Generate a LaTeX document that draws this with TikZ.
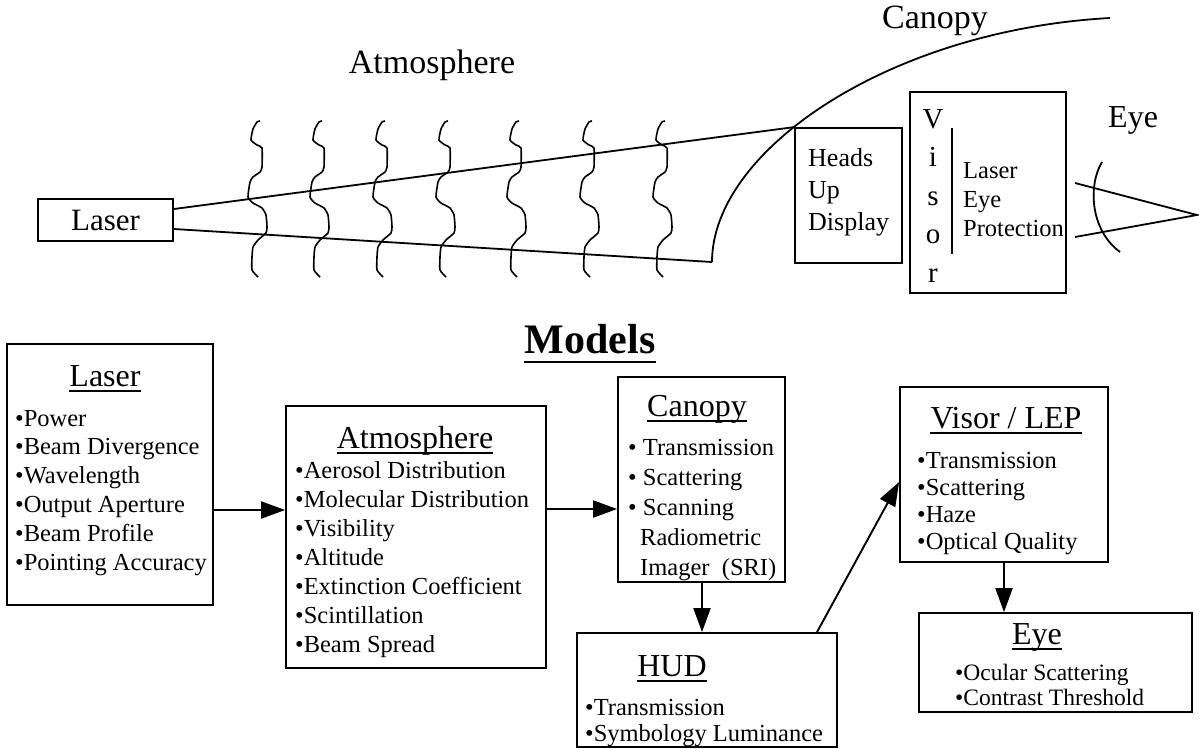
\documentclass[tikz,border=0pt]{standalone}
\usepackage{fontspec}
\setmainfont{Liberation Serif}
\usetikzlibrary{arrows.meta}
\newcommand\headul[1]{\draw[line width=1.6pt] ([yshift=-5pt]#1.base west) -- ([yshift=-5pt]#1.base east);}
\begin{document}
\begin{tikzpicture}[x=1pt,y=-1pt,
  box/.style={draw, line width=1.8pt, inner sep=0pt},
  ln/.style={line width=1.8pt},
  sq/.style={line width=1.6pt, line join=round},
  arr/.style={line width=1.9pt, -{Triangle[length=24pt,width=17pt]}},
  body/.style={font=\fontsize{24.5}{29}\selectfont, inner sep=0pt, anchor=base west},
  head/.style={font=\fontsize{32}{38}\selectfont, inner sep=0pt, anchor=base},
  big/.style={font=\fontsize{34}{40}\selectfont, inner sep=0pt, anchor=base},
  mid/.style={font=\fontsize{26}{31}\selectfont, inner sep=0pt, anchor=base west}]
\useasboundingbox (0,0) rectangle (1199,748);

% ---------------- top scene ----------------
\node[big] (tatm) at (432,73) {Atmosphere};
\node[big] (tcan) at (935,28) {Canopy};
\node[head, anchor=base west] (teye) at (1108,127) {Eye};

\node[box, minimum width=135pt, minimum height=42pt] (lasers) at (105.5,220) {};
\node[font=\fontsize{31}{36}\selectfont, inner sep=0pt, anchor=base] (lasert) at (105.5,230) {Laser};

\node[box, minimum width=107pt, minimum height=135pt] (huds) at (848.5,195.5) {};
\node[mid] (hud1) at (808,166) {Heads};
\node[mid] (hud2) at (808,198) {Up};
\node[mid] (hud3) at (808,230) {Display};

\node[box, minimum width=156pt, minimum height=201pt] (visors) at (988,192.5) {};
\foreach \c [count=\i from 0] in {V,i,s,o,r}
  \node[font=\fontsize{29}{33}\selectfont, inner sep=0pt, anchor=base] (vl\i) at (933,{128+38.5*\i}) {\c};
\coordinate (vbar1) at (952,128);
\coordinate (vbar2) at (952,254);
\draw[line width=1.6pt] (vbar1) -- (vbar2);
\node[body] (lep1) at (963,178) {Laser};
\node[body] (lep2) at (963,207) {Eye};
\node[body] (lep3) at (963,236) {Protection};

% beam and canopy
\coordinate (cbot) at (712,262);
\coordinate (ctop) at (1110,18);
\draw[ln] ([yshift=11pt]lasers.east) -- (huds.north west);
\draw[ln] ([yshift=-9pt]lasers.east) -- (cbot);
\draw[ln] (cbot) .. controls (712,150) and (890,30) .. (ctop);

% turbulence squiggles
\foreach \x in {260,322,385,448,519,592,665}
  \draw[sq, shift={(\x,121)}] plot[smooth, tension=0.3] coordinates
   {(0,0) (-3,1) (-7,8) (-9,19) (-3,24) (2,27) (2,46) (0,51) (-7,56) (-10,61)
    (-12,76) (-7,82) (2,87) (6,94) (7,106) (6,112) (-2,119) (-7,126) (-8,136)
    (-8,149) (-2,156)};

% eye
\coordinate (eyea) at (1102,162);
\coordinate (eyeb) at (1120,252);
\draw[ln] (eyea) .. controls (1088,185) and (1090,230) .. (eyeb);
\coordinate (eyeu) at (1075,183);
\coordinate (eyel) at (1075,237);
\coordinate (eyeapex) at (1197,215);
\draw[ln] (eyeu) -- (eyeapex) -- (eyel);

% ---------------- models ----------------
\node[font=\bfseries\fontsize{42}{48}\selectfont, inner sep=0pt, anchor=base] (models) at (590,353) {Models};
\draw[line width=2.6pt] ([yshift=-9pt]models.base west) -- ([yshift=-9pt]models.base east);

% Laser box
\node[box, minimum width=206pt, minimum height=261pt] (laserb) at (110,474.5) {};
\node[head] (laserh) at (105,386) {Laser};
\headul{laserh}
\foreach \t [count=\i from 0] in {•Power,•Beam Divergence,•Wavelength,•Output Aperture,•Beam Profile,•Pointing Accuracy}
  \node[body] (li\i) at (15,{426+28.8*\i}) {\t};

% Atmosphere box
\node[box, minimum width=260pt, minimum height=262pt] (atmb) at (416,537) {};
\node[head] (atmh) at (415,448) {Atmosphere};
\headul{atmh}
\foreach \t [count=\i from 0] in {•Aerosol Distribution,•Molecular Distribution,•Visibility,•Altitude,•Extinction Coefficient,•Scintillation,•Beam Spread}
  \node[body] (ai\i) at (295,{478+29*\i}) {\t};

% Canopy box
\node[box, minimum width=167pt, minimum height=205pt] (canb) at (701.5,479.5) {};
\node[head] (canh) at (697,416) {Canopy};
\headul{canh}
\node[body] (ci0) at (628,455) {• Transmission};
\node[body] (ci1) at (628,485) {• Scattering};
\node[body] (ci2) at (628,515) {• Scanning};
\node[body] (ci3) at (640,545) {Radiometric};
\node[body] (ci4) at (640,575) {Imager\ \ (SRI)};

% HUD box
\node[box, minimum width=260pt, minimum height=114pt] (hudb) at (707,690) {};
\node[head] (hudh) at (672,676) {HUD};
\headul{hudh}
\node[body] (hi0) at (585,715) {•Transmission};
\node[body] (hi1) at (585,741) {•Symbology Luminance};

% Visor box
\node[box, minimum width=208pt, minimum height=175pt] (visb) at (1004,474.5) {};
\node[head] (vish) at (1006,428) {Visor / LEP};
\headul{vish}
\foreach \t [count=\i from 0] in {•Transmission,•Scattering,•Haze,•Optical Quality}
  \node[body] (vi\i) at (917,{468+27*\i}) {\t};

% Eye box
\node[box, minimum width=273pt, minimum height=99pt] (eyebx) at (1055.5,662.5) {};
\node[head] (eyeh) at (1037,644) {Eye};
\headul{eyeh}
\node[body, font=\fontsize{23.5}{28}\selectfont] (ei0) at (955,680) {•Ocular Scattering};
\node[body, font=\fontsize{23.5}{28}\selectfont] (ei1) at (955,705) {•Contrast Threshold};

% arrows
\coordinate (r1) at (0,510);
\coordinate (r2) at (0,509);
\coordinate (c3) at (817,0);
\coordinate (r4) at (0,482);
\coordinate (c5) at (702,0);
\draw[arr] (laserb.east |- r1) -- (atmb.west |- r1);
\draw[arr] (atmb.east |- r2) -- (canb.west |- r2);
\draw[arr] (canb.south -| c5) -- (hudb.north -| c5);
\draw[arr] (hudb.north -| c3) -- (visb.west |- r4);
\draw[arr] (visb.south) -- (visb.south |- eyebx.north);
\end{tikzpicture}
\end{document}
